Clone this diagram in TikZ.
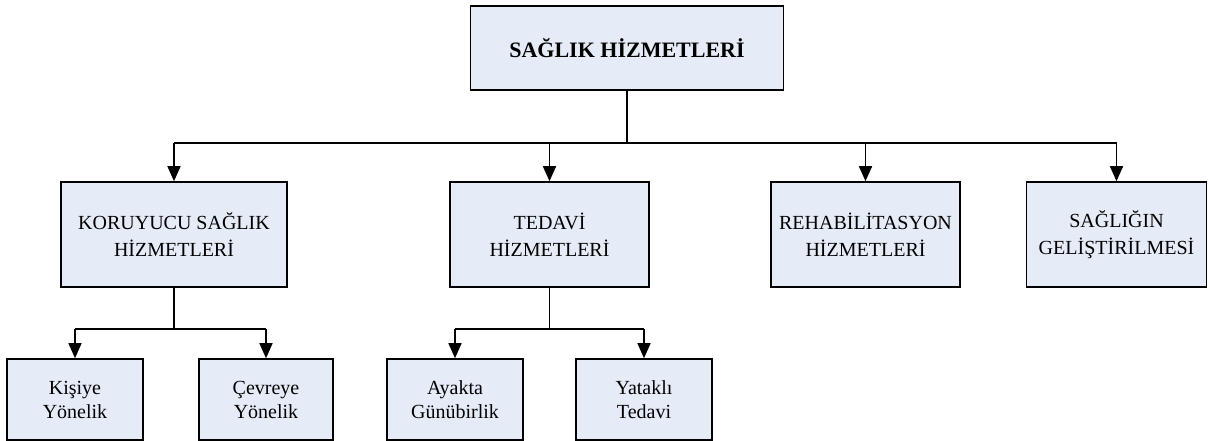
\documentclass[tikz,border=0pt]{standalone}
\usepackage{fontspec}
\setmainfont{Liberation Serif}
\usetikzlibrary{arrows.meta}
\definecolor{boxfill}{RGB}{230,236,247}
\begin{document}
\begin{tikzpicture}[x=1pt,y=-1pt,
  unit/.style={draw=black, line width=1.6pt, fill=boxfill, inner sep=0pt,
    align=center, font=\fontsize{20}{26.7}\selectfont},
  leaf/.style={unit, minimum width=136pt, minimum height=81pt,
    font=\fontsize{20}{24}\selectfont},
  link/.style={line width=1.6pt},
  arrowlink/.style={line width=1.6pt, -{Triangle[length=15pt,width=13pt]}}]
\useasboundingbox (0,0) rectangle (1208,441);

% root
\node[unit, minimum width=313pt, minimum height=84pt,
  font=\fontsize{22}{26}\selectfont\bfseries] (root) at (627,48) {SAĞLIK HİZMETLERİ};

% second level
\node[unit, minimum width=226pt, minimum height=105pt] (b1) at (174,234.5) {KORUYUCU SAĞLIK\\HİZMETLERİ};
\node[unit, minimum width=199pt, minimum height=105pt] (b2) at (549.5,234.5) {TEDAVİ\\HİZMETLERİ};
\node[unit, minimum width=189pt, minimum height=105pt] (b3) at (865.5,234.5) {REHABİLİTASYON\\HİZMETLERİ};
\node[unit, minimum width=180pt, minimum height=105pt] (b4) at (1116.5,234.5) {SAĞLIĞIN\\GELİŞTİRİLMESİ};

% third level
\node[leaf] (c1) at (75,399.5) {Kişiye\\Yönelik};
\node[leaf, minimum width=134pt] (c2) at (266,399.5) {Çevreye\\Yönelik};
\node[leaf] (c3) at (455,399.5) {Ayakta\\Günübirlik};
\node[leaf] (c4) at (644,399.5) {Yataklı\\Tedavi};

% bus levels
\coordinate (bus) at (0,143);
\coordinate (subbus) at (0,329);

% root to second level
\draw[link] (root.south) -- (root.south |- bus);
\draw[link] (b1.north |- bus) -- (b4.north |- bus);
\foreach \n in {b1,b2,b3,b4}
  \draw[arrowlink] (\n.north |- bus) -- (\n.north);

% second level to third level
\draw[link] (b1.south) -- (b1.south |- subbus);
\draw[link] (c1.north |- subbus) -- (c2.north |- subbus);
\draw[arrowlink] (c1.north |- subbus) -- (c1.north);
\draw[arrowlink] (c2.north |- subbus) -- (c2.north);

\draw[link] (b2.south) -- (b2.south |- subbus);
\draw[link] (c3.north |- subbus) -- (c4.north |- subbus);
\draw[arrowlink] (c3.north |- subbus) -- (c3.north);
\draw[arrowlink] (c4.north |- subbus) -- (c4.north);
\end{tikzpicture}
\end{document}
